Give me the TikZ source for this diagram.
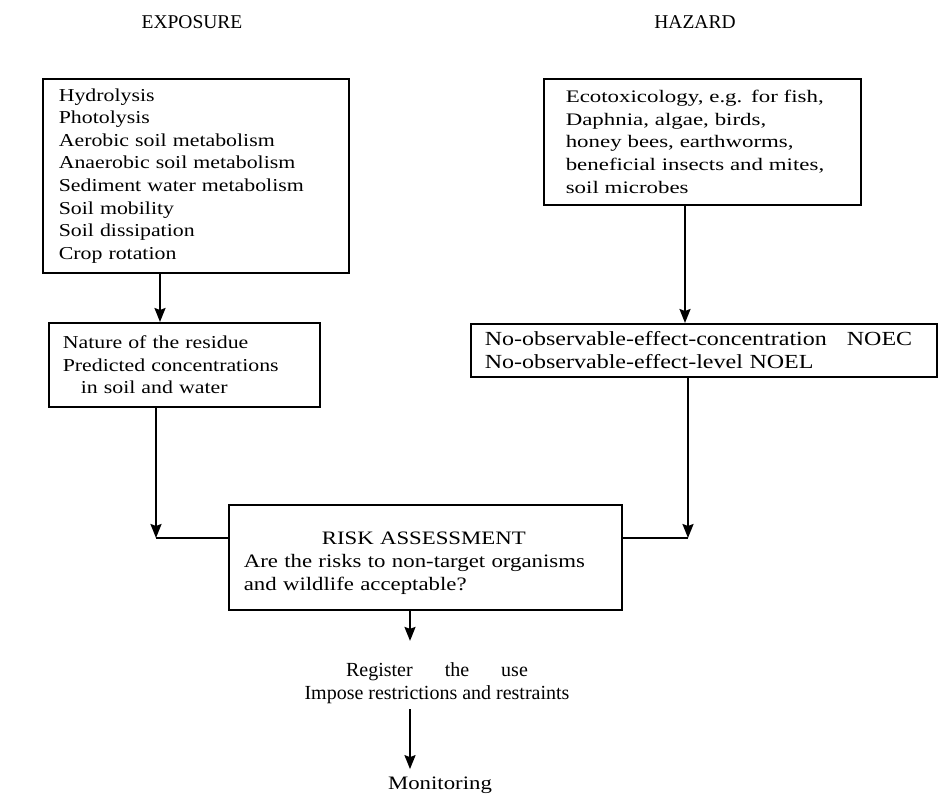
\documentclass[tikz,border=0pt]{standalone}
\usepackage{fontspec}
\setmainfont{Liberation Serif}
\newfontfamily\breitA[FakeStretch=1.3]{Liberation Serif}
\newfontfamily\breitB[FakeStretch=1.2]{Liberation Serif}
\usetikzlibrary{arrows.meta}

\tikzset{
	kasten/.style={draw, line width=1.6pt, align=left, anchor=north west,
		inner ysep=0pt},
	titel/.style={font=\fontsize{19.5}{21}\selectfont},
	schrift/.style={align=center, font=\fontsize{20}{23}\selectfont},
	pfeil/.style={line width=1.9pt, -{Stealth[length=14pt, width=11pt, inset=2pt]}},
	linie/.style={line width=1.9pt}
}

\begin{document}
\begin{tikzpicture}[x=1pt, y=-1pt]
	\useasboundingbox (0,0) rectangle (938,798);
	% Ueberschriften
	\node[titel] (exposure) at (192,22) {EXPOSURE};
	\node[titel] (hazard) at (695,22) {HAZARD};

	% Kaesten links
	\node[kasten, inner xsep=16pt, text width=274pt, minimum height=194pt,
		font=\breitB\fontsize{18.2}{22.6}\selectfont]
		(verbleib) at (42,78) {Hydrolysis\\Photolysis\\Aerobic soil metabolism\\
		Anaerobic soil metabolism\\Sediment water metabolism\\Soil mobility\\
		Soil dissipation\\Crop rotation};
	\node[kasten, inner xsep=14pt, text width=243pt, minimum height=84pt,
		font=\breitB\fontsize{18.2}{22.6}\selectfont]
		(rueckstand) at (48,322) {Nature of the residue\\Predicted concentrations\\
		\hspace*{18pt}in soil and water};

	% Kaesten rechts
	\node[kasten, inner xsep=22pt, text width=273pt, minimum height=126pt,
		font=\breitA\fontsize{17.6}{22.6}\selectfont]
		(oekotox) at (543,78) {Ecotoxicology, e.g. for fish,\\Daphnia, algae, birds,\\
		honey bees, earthworms,\\beneficial insects and mites,\\soil microbes};
	\node[kasten, inner xsep=14pt, text width=438pt, minimum height=53pt,
		font=\breitB\fontsize{20}{23}\selectfont]
		(noec) at (470,323) {No-observable-effect-concentration\quad NOEC\\
		No-observable-effect-level NOEL};

	% Bewertung
	\node[kasten, inner xsep=15pt, text width=363pt, minimum height=105pt,
		font=\breitB\fontsize{19}{23}\selectfont]
		(risiko) at (228,504) {\rule{0pt}{24pt}\hspace*{78pt}RISK ASSESSMENT\\
		Are the risks to non-target organisms\\and wildlife acceptable?};
	\node[schrift] (zulassung) at (437,683)
		{Register\hspace*{32pt}the\hspace*{32pt}use\\Impose restrictions and restraints};
	\node[schrift, font=\breitB\fontsize{19}{23}\selectfont] (monitoring) at (440,785) {Monitoring};

	% Knickpunkte
	\coordinate (linksx) at (160,0);
	\coordinate (eckel) at (156,538);
	\coordinate (rechtsx) at (685,0);
	\coordinate (ecker) at (688,538);
	\coordinate (mittex) at (410,0);

	% Pfeile
	\draw[pfeil] (verbleib.south -| linksx) -- (rueckstand.north -| linksx);
	\draw[pfeil] (rueckstand.south -| eckel) -- (eckel);
	\draw[linie] (eckel) -- (risiko.west |- eckel);
	\draw[pfeil] (oekotox.south -| rechtsx) -- (noec.north -| rechtsx);
	\draw[pfeil] (noec.south -| ecker) -- (ecker);
	\draw[linie] (ecker) -- (risiko.east |- ecker);
	\draw[pfeil, shorten >=18pt] (risiko.south -| mittex) -- (zulassung.north -| mittex);
	\draw[pfeil, shorten <=2pt, shorten >=4pt] (zulassung.south -| mittex) -- (monitoring.north -| mittex);
\end{tikzpicture}
\end{document}
